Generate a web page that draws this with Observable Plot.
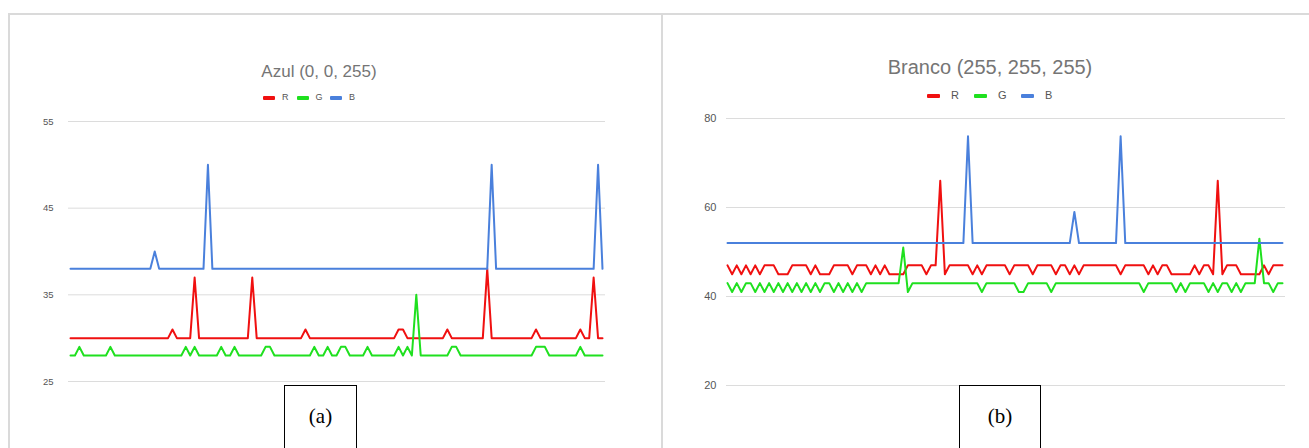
<!DOCTYPE html>
<html><head><meta charset="utf-8">
<script src="https://cdn.jsdelivr.net/npm/d3@7"></script>
<script src="https://cdn.jsdelivr.net/npm/@observablehq/plot@0.6"></script>
<style>
body{margin:0;background:#fff;}
#root{position:relative;width:1309px;height:448px;overflow:hidden;font-family:"Liberation Sans",Arial,sans-serif;background:#fff;}
.frame{position:absolute;left:8px;top:13px;width:1400px;height:500px;border-top:2px solid #dadada;border-left:2px solid #dadada;}
.divider{position:absolute;left:661px;top:13px;width:2px;height:440px;background:#dadada;}
.title{position:absolute;color:#757575;white-space:nowrap;transform:translateX(-50%);line-height:1;}
.legend{position:absolute;color:#555;white-space:nowrap;line-height:1;}
.item{position:absolute;display:flex;align-items:center;top:0;}
.sw{display:inline-block;height:4px;border-radius:1px;}
.plot{position:absolute}
.tag{position:absolute;border:1.5px solid #000;font-family:"Liberation Serif","Times New Roman",serif;font-size:21px;text-align:center;box-sizing:border-box;background:#fff;}
</style>
</head><body>
<div id="root"></div>
<script>
// ---------- data ----------
const seriesNames = ["R", "G", "B"];
const seriesColors = ["#f01010", "#1fe01f", "#4a80dc"];

const azulTitle = "Azul (0, 0, 255)";
const azulTicks = [25, 35, 45, 55];
const azulR = [
 30,30,30,30,30,30,30,30,30,30,
 30,30,30,30,30,30,30,30,30,30,
 30,30,30,31,30,30,30,30,37,30,
 30,30,30,30,30,30,30,30,30,30,
 30,37,30,30,30,30,30,30,30,30,
 30,30,30,31,30,30,30,30,30,30,
 30,30,30,30,30,30,30,30,30,30,
 30,30,30,30,31,31,30,30,30,30,
 30,30,30,30,30,31,30,30,30,30,
 30,30,30,30,38,30,30,30,30,30,
 30,30,30,30,30,31,30,30,30,30,
 30,30,30,30,30,31,30,30,37,30,
 30];
const azulG = [
 28,28,29,28,28,28,28,28,28,29,
 28,28,28,28,28,28,28,28,28,28,
 28,28,28,28,28,28,29,28,29,28,
 28,28,28,28,29,28,28,29,28,28,
 28,28,28,28,29,29,28,28,28,28,
 28,28,28,28,28,29,28,28,29,28,
 28,29,29,28,28,28,28,29,28,28,
 28,28,28,28,29,28,29,28,35,28,
 28,28,28,28,28,28,29,29,28,28,
 28,28,28,28,28,28,28,28,28,28,
 28,28,28,28,28,29,29,29,28,28,
 28,28,28,28,28,29,28,28,28,28,
 28];
const azulB = [
 38,38,38,38,38,38,38,38,38,38,
 38,38,38,38,38,38,38,38,38,40,
 38,38,38,38,38,38,38,38,38,38,
 38,50,38,38,38,38,38,38,38,38,
 38,38,38,38,38,38,38,38,38,38,
 38,38,38,38,38,38,38,38,38,38,
 38,38,38,38,38,38,38,38,38,38,
 38,38,38,38,38,38,38,38,38,38,
 38,38,38,38,38,38,38,38,38,38,
 38,38,38,38,38,50,38,38,38,38,
 38,38,38,38,38,38,38,38,38,38,
 38,38,38,38,38,38,38,38,38,50,
 38];

const brancoTitle = "Branco (255, 255, 255)";
const brancoTicks = [20, 40, 60, 80];
const brancoR = [
 47,45,47,45,47,45,47,45,47,47,
 47,45,45,45,47,47,47,47,45,47,
 45,45,45,47,47,47,47,45,47,47,
 47,45,47,45,47,45,45,45,45,47,
 47,47,47,45,47,47,66,45,47,47,
 47,47,47,45,47,45,47,47,47,47,
 47,45,47,47,47,47,45,47,47,47,
 47,45,47,47,45,47,45,47,47,47,
 47,47,47,47,47,45,47,47,47,47,
 47,45,47,45,47,47,45,45,45,45,
 45,47,45,47,47,45,66,45,47,47,
 47,45,45,45,45,45,47,45,47,47,
 47];
const brancoG = [
 43,41,43,41,43,43,41,43,41,43,
 41,43,41,43,41,43,41,43,41,43,
 41,43,43,41,43,41,43,41,43,41,
 43,43,43,43,43,43,43,43,51,41,
 43,43,43,43,43,43,43,43,43,43,
 43,43,43,43,43,41,43,43,43,43,
 43,43,43,41,41,43,43,43,43,43,
 41,43,43,43,43,43,43,43,43,43,
 43,43,43,43,43,43,43,43,43,43,
 41,43,43,43,43,43,43,41,43,41,
 43,43,43,43,41,43,41,43,43,41,
 43,41,43,43,43,53,43,43,41,43,
 43];
const brancoB = [
 52,52,52,52,52,52,52,52,52,52,
 52,52,52,52,52,52,52,52,52,52,
 52,52,52,52,52,52,52,52,52,52,
 52,52,52,52,52,52,52,52,52,52,
 52,52,52,52,52,52,52,52,52,52,
 52,52,76,52,52,52,52,52,52,52,
 52,52,52,52,52,52,52,52,52,52,
 52,52,52,52,52,59,52,52,52,52,
 52,52,52,52,52,76,52,52,52,52,
 52,52,52,52,52,52,52,52,52,52,
 52,52,52,52,52,52,52,52,52,52,
 52,52,52,52,52,52,52,52,52,52,
 52];

const panelLabels = ["(a)", "(b)"];

// ---------- layout ----------
const root = document.getElementById("root");
root.insertAdjacentHTML("beforeend", '<div class="frame"></div><div class="divider"></div>');

function rowsOf(R, G, B) {
  const rows = [];
  [R, G, B].forEach((arr, k) => arr.forEach((v, i) => rows.push({s: seriesNames[k], i, v})));
  return rows;
}

function panel(cfg) {
  const rows = rowsOf(cfg.R, cfg.G, cfg.B);
  const n = cfg.R.length;
  const svg = Plot.plot({
    width: cfg.w, height: cfg.h,
    marginTop: cfg.mt, marginBottom: cfg.mb, marginLeft: cfg.ml, marginRight: cfg.mr,
    style: {background: "transparent", overflow: "visible"},
    x: {domain: [0, n - 1], axis: null, insetLeft: cfg.il, insetRight: cfg.ir},
    y: {domain: [cfg.ticks[0], cfg.ticks[cfg.ticks.length - 1]]},
    color: {domain: seriesNames, range: seriesColors},
    marks: [
      Plot.gridY(cfg.ticks, {stroke: "#dcdcdc", strokeOpacity: 1, strokeWidth: 1}),
      Plot.axisY(cfg.ticks, {tickSize: 0, tickPadding: cfg.tp, fontSize: cfg.fs, fill: "#555", label: null, fontFamily: "Liberation Sans, Arial, sans-serif"}),
      Plot.line(rows, {x: "i", y: "v", z: "s", stroke: "s", strokeWidth: 2})
    ]
  });
  svg.classList.add("plot");
  svg.style.left = cfg.left + "px";
  svg.style.top = cfg.top + "px";
  root.appendChild(svg);

  const t = document.createElement("div");
  t.className = "title";
  t.textContent = cfg.title;
  t.style.fontSize = cfg.tfs + "px";
  t.style.left = cfg.tx + "px";
  t.style.top = cfg.ty + "px";
  root.appendChild(t);

  const lg = document.createElement("div");
  lg.className = "legend";
  lg.style.left = cfg.lx + "px";
  lg.style.top = cfg.ly + "px";
  lg.style.fontSize = cfg.lfs + "px";
  seriesNames.forEach((name, k) => {
    const it = document.createElement("div");
    it.className = "item";
    it.style.left = (k * cfg.pitch) + "px";
    it.innerHTML = `<span class="sw" style="width:${cfg.sww}px;margin-right:${cfg.gap}px;background:${seriesColors[k]}"></span><span>${name}</span>`;
    lg.appendChild(it);
  });
  root.appendChild(lg);

  const tag = document.createElement("div");
  tag.className = "tag";
  tag.textContent = cfg.label;
  Object.assign(tag.style, {left: cfg.bx + "px", top: "385px", width: cfg.bw + "px", height: "80px", paddingTop: "18px"});
  root.appendChild(tag);
}

panel({R: azulR, G: azulG, B: azulB, ticks: azulTicks, title: azulTitle, label: panelLabels[0],
  left: 0, top: 108, w: 660, h: 290, mt: 13, mb: 17, ml: 68, mr: 55, il: 2, ir: 3, tp: 15, fs: 9.5,
  tx: 319, ty: 63, tfs: 17, lx: 263, ly: 93, lfs: 9, pitch: 33.5, sww: 12, gap: 7, bx: 284, bw: 73});

panel({R: brancoR, G: brancoG, B: brancoB, ticks: brancoTicks, title: brancoTitle, label: panelLabels[1],
  left: 662, top: 108, w: 647, h: 290, mt: 10, mb: 13, ml: 64, mr: 24, il: 1, ir: 3, tp: 10, fs: 11,
  tx: 990, ty: 57, tfs: 20, lx: 927, ly: 90, lfs: 11, pitch: 47, sww: 13, gap: 11, bx: 959, bw: 82});
</script>
</body></html>
